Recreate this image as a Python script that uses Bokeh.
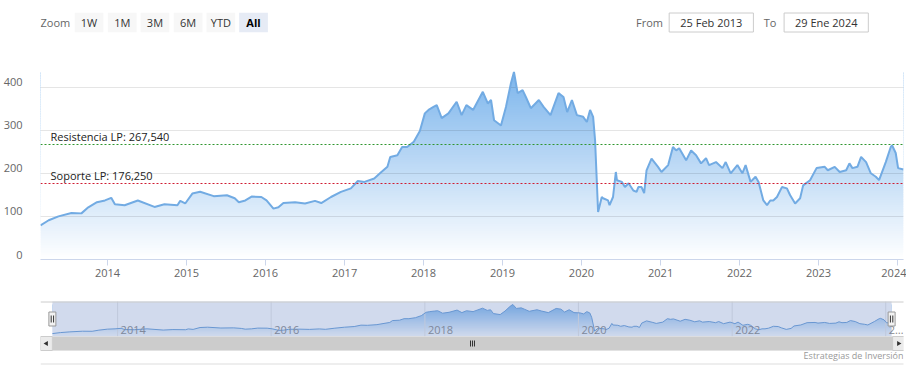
import numpy as np
import pandas as pd
from bokeh.plotting import figure
from bokeh.layouts import column
from bokeh.models import Range1d, FixedTicker, DatetimeTickFormatter, Label, LinearAxis
from bokeh.embed import file_html
from bokeh.resources import INLINE
from bokeh.core.properties import value

# ---------------- data ----------------
fechas = [
    "2013-02-25", "2013-04-04", "2013-05-19", "2013-07-18", "2013-09-02", "2013-10-04", "2013-11-13", "2013-12-20",
    "2014-01-18", "2014-02-04", "2014-03-21", "2014-05-21", "2014-08-06", "2014-09-21", "2014-11-20", "2014-12-03",
    "2014-12-26", "2015-01-28", "2015-03-05", "2015-05-07", "2015-07-07", "2015-08-12", "2015-08-31", "2015-09-30",
    "2015-10-29", "2015-12-13", "2016-01-06", "2016-02-07", "2016-03-01", "2016-03-24", "2016-05-17", "2016-07-02",
    "2016-08-17", "2016-09-15", "2016-10-30", "2016-12-15", "2017-01-30", "2017-03-03", "2017-04-03", "2017-05-18",
    "2017-06-16", "2017-07-18", "2017-07-31", "2017-09-02", "2017-09-24", "2017-10-17", "2017-11-17", "2017-12-15",
    "2018-01-07", "2018-01-24", "2018-02-16", "2018-03-03", "2018-03-26", "2018-04-26", "2018-06-03", "2018-06-26",
    "2018-07-18", "2018-08-18", "2018-10-02", "2018-10-25", "2018-11-09", "2018-11-23", "2018-12-25", "2019-01-17",
    "2019-02-09", "2019-02-23", "2019-03-12", "2019-04-04", "2019-04-19", "2019-05-12", "2019-06-18", "2019-07-10",
    "2019-08-11", "2019-09-17", "2019-10-10", "2019-10-27", "2019-11-18", "2019-12-11", "2020-01-09", "2020-01-26",
    "2020-02-10", "2020-02-24", "2020-03-04", "2020-03-18", "2020-04-04", "2020-04-10", "2020-05-03", "2020-05-10",
    "2020-05-26", "2020-06-08", "2020-06-13", "2020-07-06", "2020-07-20", "2020-08-06", "2020-08-28", "2020-09-12",
    "2020-09-20", "2020-10-05", "2020-10-17", "2020-10-28", "2020-11-20", "2020-12-20", "2021-01-05", "2021-02-05",
    "2021-02-27", "2021-03-14", "2021-03-28", "2021-04-29", "2021-05-22", "2021-06-14", "2021-07-07", "2021-07-30",
    "2021-08-13", "2021-09-14", "2021-10-14", "2021-10-29", "2021-11-21", "2021-12-22", "2022-01-14", "2022-01-29",
    "2022-02-21", "2022-03-16", "2022-03-30", "2022-04-21", "2022-05-08", "2022-05-23", "2022-06-06", "2022-06-23",
    "2022-07-16", "2022-08-08", "2022-08-23", "2022-09-15", "2022-10-08", "2022-10-22", "2022-11-23", "2022-12-23",
    "2023-01-30", "2023-02-13", "2023-03-17", "2023-04-09", "2023-05-09", "2023-05-24", "2023-06-07", "2023-06-30",
    "2023-07-17", "2023-08-09", "2023-08-31", "2023-09-23", "2023-10-08", "2023-11-08", "2023-12-01", "2023-12-07",
    "2023-12-24", "2024-01-04", "2024-01-29",
]
precio = [
    79, 91, 100, 108, 107, 121, 133, 137,
    143, 128, 126, 137, 122, 128, 126, 136,
    130, 153, 157, 147, 149, 142, 133, 137,
    146, 145, 137, 118, 121, 131, 133, 130,
    136, 131, 145, 157, 165, 182, 180, 188,
    201, 215, 238, 242, 261, 261, 273, 298,
    339, 347, 354, 358, 328, 339, 366, 335,
    358, 347, 389, 362, 370, 323, 311, 354,
    409, 435, 386, 393, 377, 351, 370, 354,
    335, 386, 377, 342, 370, 335, 331, 319,
    347, 331, 277, 110, 145, 142, 137, 126,
    145, 203, 184, 180, 168, 177, 160, 157,
    168, 168, 154, 207, 234, 215, 203, 219,
    261, 253, 258, 230, 253, 242, 223, 235,
    219, 226, 212, 226, 200, 219, 200, 219,
    180, 192, 180, 137, 126, 137, 137, 145,
    168, 165, 149, 130, 142, 172, 184, 212,
    215, 207, 215, 203, 207, 223, 212, 215,
    238, 226, 200, 192, 184, 226, 261, 265,
    247, 212, 209,
]
resistencia = 267.54
soporte = 176.25
resistencia_txt = "Resistencia LP: 267,540"
soporte_txt = "Soporte LP: 176,250"
y_ticks = [0, 100, 200, 300, 400]
x_anios = ["2014-01-01", "2015-01-01", "2016-01-01", "2017-01-01", "2018-01-01", "2019-01-01",
           "2020-01-01", "2021-01-01", "2022-01-01", "2023-01-01", "2024-01-01"]
nav_anios = ["2014-01-01", "2016-01-01", "2018-01-01", "2020-01-01", "2022-01-01", "2024-01-01"]
nav_etiquetas = ["2014", "2016", "2018", "2020", "2022", "2…"]
zoom_botones = ["1W", "1M", "3M", "6M", "YTD", "All"]
desde_txt = "25 Feb 2013"
hasta_txt = "29 Ene 2024"
credito = "Estrategias de Inversión"

# ---------------- helpers ----------------
FONT = value("Open Sans")
W = 906
FL, FR = 40, 911          # page x of the (shared) plot frame
TOP_RGB = np.array([124, 181, 236])


def to_ms(strs):
    return pd.to_datetime(strs).values.astype("datetime64[ms]").astype(np.int64).astype(float)


def mix(t):
    t = float(np.clip(t, 0, 1))
    c = np.array([255, 255, 255]) * (1 - t) + TOP_RGB * t
    return "#%02x%02x%02x" % tuple(int(round(x)) for x in c)


ms = to_ms(fechas)
v = np.array(precio, dtype=float)
vmax, vmin = v.max(), v.min()


def bare(p):
    p.outline_line_color = None
    p.background_fill_color = "white"
    p.border_fill_color = "white"


# ---------------- header (page coordinates) ----------------
HB = 58
hdr = figure(width=W, height=HB, x_range=Range1d(FL, FR), y_range=Range1d(HB, 0),
             output_backend="svg", toolbar_location=None, min_border=0,
             min_border_left=FL - 8, min_border_right=8 + W - FR,
             x_axis_location=None, y_axis_location=None)
bare(hdr)
hdr.grid.visible = False
hdr.text(x=[40, 641, 770], y=[22, 22, 22], text=["Zoom", "From", "To"], text_font=FONT,
         text_font_size="11px", text_color="#666666", text_align="left", text_baseline="middle")
bx = [89, 122.5, 155.5, 189, 222, 255]
bfill = ["#f7f7f7"] * 5 + ["#e6ebf5"]
hdr.rect(x=bx, y=[22] * 6, width=[29] * 6, height=[19.4] * 6, fill_color=bfill, line_color=None)
hdr.text(x=bx[:5], y=[22] * 5, text=zoom_botones[:5], text_font=FONT, text_font_size="11px",
         text_color="#333333", text_align="center", text_baseline="middle")
hdr.text(x=bx[5:], y=[22], text=zoom_botones[5:], text_font=FONT, text_font_size="11px",
         text_font_style="bold", text_color="#000000", text_align="center", text_baseline="middle")
hdr.quad(left=[674.5, 790.5], right=[759.5, 875.5], top=[12.5, 12.5], bottom=[31.5, 31.5],
         fill_color="white", line_color="#cccccc")
hdr.text(x=[717, 833], y=[22, 22], text=[desde_txt, hasta_txt], text_font=FONT, text_font_size="11px",
         text_color="#333333", text_align="center", text_baseline="middle")

# ---------------- main chart ----------------
YMAX = 457
FRAME_H = 197                       # page 62 .. 259
main = figure(width=W, height=238, x_axis_type="datetime",
              x_range=Range1d(ms[0], ms[-1]), y_range=Range1d(0, YMAX),
              output_backend="svg", toolbar_location=None, y_axis_location=None,
              min_border_left=FL - 8, min_border_right=8 + W - FR, min_border_top=4, min_border_bottom=37)
bare(main)
main.xgrid.visible = False

levels = np.linspace(0, vmax, 80)
step = levels[1] - levels[0]
mids = (levels[:-1] + levels[1:]) / 2
main.quad(left=ms[0], right=ms[-1], bottom=levels[:-1], top=np.minimum(levels[1:] + 0.7 * step, vmax),
          fill_color=[mix(m / vmax) for m in mids], line_color=None)
main.varea(x=ms, y1=v, y2=YMAX + 20, fill_color="white")
main.hspan(y=y_ticks, line_color="black", line_alpha=0.1, line_width=1)
main.line(ms, v, line_color="#72abe3", line_width=2)
main.hspan(y=[resistencia], line_color="#2f962f", line_dash="2 2", line_width=1)
main.hspan(y=[soporte], line_color="#d01c32", line_dash="2 2", line_width=1)
for yv, txt in ((resistencia, resistencia_txt), (soporte, soporte_txt)):
    main.add_layout(Label(x=ms[0], y=yv, x_offset=10, y_offset=8, text=txt, text_font="Open Sans",
                          text_font_size="11px", text_color="#222222", text_baseline="alphabetic"))

main.xaxis.ticker = FixedTicker(ticks=list(to_ms(x_anios)))
main.xaxis.formatter = DatetimeTickFormatter(years="%Y", months="%Y", days="%Y")
main.xaxis.axis_line_color = "#ccd6eb"
main.xaxis.major_tick_line_color = "#ccd6eb"
main.xaxis.major_tick_out = 6
main.xaxis.major_tick_in = 0
main.xaxis.minor_tick_line_color = None
main.xaxis.major_label_standoff = 3
main.xaxis.major_label_text_font = "Open Sans"
main.xaxis.major_label_text_font_size = "11px"
main.xaxis.major_label_text_color = "#666666"

# y labels sit ~5px above their grid lines: an axis on a range shifted by 5px
shift = 5 * YMAX / FRAME_H
main.extra_y_ranges = {"ylab": Range1d(-shift, YMAX - shift)}
yax = LinearAxis(y_range_name="ylab", ticker=FixedTicker(ticks=y_ticks))
yax.axis_line_color = None
yax.major_tick_line_color = None
yax.minor_tick_line_color = None
yax.major_label_standoff = 12
yax.major_label_text_font = "Open Sans"
yax.major_label_text_font_size = "11px"
yax.major_label_text_color = "#666666"
main.add_layout(yax, "left")

# ---------------- navigator + scrollbar + credits (page coords + series ranges) ----------------
NAV_L, NAV_R, NAV_T, NAV_B = 52, 899, 301, 336
PAGE_T, PAGE_B = 296, 370
nav = figure(width=W, height=PAGE_B - PAGE_T, x_range=Range1d(FL, FR), y_range=Range1d(PAGE_B, PAGE_T),
             output_backend="svg", toolbar_location=None, min_border=0,
             min_border_left=FL - 8, min_border_right=8 + W - FR,
             x_axis_location=None, y_axis_location=None)
bare(nav)
nav.grid.visible = False
k = (ms[-1] - ms[0]) / (NAV_R - NAV_L)
nav.extra_x_ranges = {"nx": Range1d(ms[0] - (NAV_L - FL) * k, ms[-1] + (FR - NAV_R) * k)}
pad = 0.1 * (vmax - vmin)
vlo, vhi = vmin - pad, vmax + pad
s = (NAV_B - NAV_T) / (vhi - vlo)
nav.extra_y_ranges = {"ny": Range1d(vlo - (PAGE_B - NAV_B) / s, vhi + (NAV_T - PAGE_T) / s)}

nlev = np.linspace(vlo, vmax, 30)
nstep = nlev[1] - nlev[0]
nmid = (nlev[:-1] + nlev[1:]) / 2
nav.quad(left=ms[0], right=ms[-1], bottom=nlev[:-1], top=np.minimum(nlev[1:] + 0.7 * nstep, vmax),
         fill_color=[mix((m - vlo) / (vmax - vlo)) for m in nmid], line_color=None,
         x_range_name="nx", y_range_name="ny")
nav.varea(x=ms, y1=v, y2=vhi, fill_color="white", x_range_name="nx", y_range_name="ny")
nx_ticks = to_ms(nav_anios)
nav.segment(x0=nx_ticks, x1=nx_ticks, y0=NAV_T, y1=NAV_B, line_color="#e6e6e6", x_range_name="nx")
nav.line(ms, v, line_color="#6a9fd8", line_width=1, x_range_name="nx", y_range_name="ny")
nav.text(x=nx_ticks, y=[329] * len(nx_ticks), text=nav_etiquetas, x_offset=3, text_font=FONT,
         text_font_size="11px", text_color="#8a8a8a", text_align="left", text_baseline="middle",
         x_range_name="nx")
# mask of the selected range (All)
nav.quad(left=[ms[0]], right=[ms[-1]], top=[NAV_T], bottom=[NAV_B], fill_color="#6685c2",
         fill_alpha=0.3, line_color=None, x_range_name="nx")
nav.segment(x0=[40], x1=[912], y0=[NAV_T + 0.5], y1=[NAV_T + 0.5], line_color="#cccccc")
# handles
hx = np.array([ms[0], ms[-1]])
nav.rect(x=hx, y=[318.5, 318.5], width=[7, 7], height=[14, 14], width_units="screen",
         height_units="screen", fill_color="#f2f2f2", line_color="#999999", x_range_name="nx")
for d in (-1.2, 1.2):
    nav.segment(x0=hx + d * k, x1=hx + d * k, y0=[315, 315], y1=[322, 322], line_color="#333333",
                line_width=1, x_range_name="nx")
# scrollbar
nav.quad(left=[40], right=[912], top=[336], bottom=[350], fill_color="#f2f2f2", line_color=None)
nav.quad(left=[52], right=[900], top=[336], bottom=[350], fill_color="#cccccc", line_color=None)
nav.quad(left=[40, 900], right=[52, 912], top=[336, 336], bottom=[350, 350], fill_color="#ebebeb",
         line_color="#cccccc")
nav.scatter(x=[46, 906], y=[343, 343], marker="triangle", size=5, angle=[np.pi / 2, -np.pi / 2],
            fill_color="#333333", line_color=None)
nav.segment(x0=[474, 476, 478], x1=[474, 476, 478], y0=[340] * 3, y1=[346] * 3, line_color="#333333")
# credits and bottom rule
nav.text(x=[911], y=[355], text=[credito], text_font=FONT, text_font_size="9px", text_color="#999999",
         text_align="right", text_baseline="middle")
nav.segment(x0=[40], x1=[912], y0=[363.5], y1=[363.5], line_color="#dddddd")

layout = column(hdr, main, nav, spacing=0)
open("out.html", "w").write(file_html(layout, INLINE))
